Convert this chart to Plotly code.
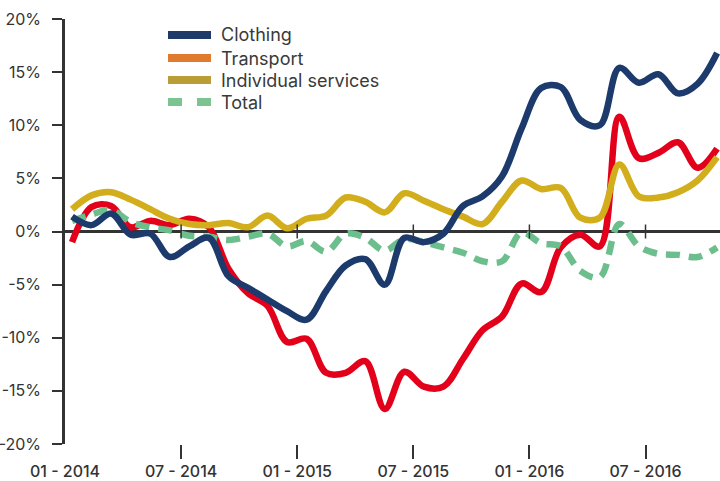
import plotly.graph_objects as go

# month index 0 = Jan 2014 ... 33 = Oct 2016
months = list(range(34))

clothing = [1.4, 0.6, 1.7, -0.3, -0.2, -2.4, -1.4, -0.6, -4.2, -5.3,
            -6.4, -7.5, -8.3, -5.6, -3.2, -2.6, -5.0, -0.6, -1.0, -0.2,
            2.4, 3.3, 5.2, 9.7, 13.5, 13.6, 10.5, 10.0, 15.4, 14.0,
            14.8, 13.0, 13.9, 16.8]

transport = [-1.0, 2.3, 2.4, 0.4, 1.0, 0.6, 1.2, 0.4, -3.5, -5.8,
             -7.0, -10.4, -10.1, -13.3, -13.3, -12.2, -16.7, -13.2, -14.6, -14.6,
             -12.0, -9.3, -8.0, -4.9, -5.7, -1.5, -0.3, -1.4, 10.8, 6.9,
             7.4, 8.4, 6.0, 7.8]

services = [2.1, 3.4, 3.7, 3.0, 2.1, 1.2, 0.7, 0.6, 0.8, 0.4,
            1.5, 0.3, 1.2, 1.5, 3.2, 2.8, 1.8, 3.6, 2.9, 2.1,
            1.4, 0.7, 2.8, 4.8, 4.0, 4.1, 1.3, 1.3, 6.3, 3.3,
            3.2, 3.7, 4.8, 7.0]

total = [1.0, 1.6, 2.0, 0.9, 0.4, 0.1, -0.4, -0.5, -0.8, -0.5,
         -0.2, -1.4, -0.9, -1.9, -0.2, -0.6, -1.8, -0.7, -1.0, -1.5,
         -2.0, -2.8, -2.8, -0.1, -1.1, -1.4, -3.7, -4.3, 0.7, -1.4,
         -2.1, -2.2, -2.4, -1.5]

tick_labels = ["01 - 2014", "07 - 2014", "01 - 2015", "07 - 2015", "01 - 2016", "07 - 2016"]
y_ticks = [-20, -15, -10, -5, 0, 5, 10, 15, 20]
y_tick_labels = [f"{v}%" for v in y_ticks]

series_names = ["Clothing", "Transport", "Individual services", "Total"]
line_colors = ["#1c3a6b", "#e3001b", "#d2ad1c", "#6cbf8c"]
legend_colors = ["#1f3a68", "#e07a2f", "#bb9d38", "#7cc392"]

# figure geometry
W, H = 720, 481
ML, MR, MT, MB = 65, 0, 19, 37
PW, PH = W - ML - MR, H - MT - MB

def px_x(p):
    return (p - ML) / PW

def px_y(p):
    return (H - MB - p) / PH

# axis geometry (month-index units)
x_start = -0.36
x_end = 33.15
tick_step = 5.94
tick_pos = [x_start + tick_step * k for k in range(len(tick_labels))]

DARK = "#333333"
FONT = "Inter"

fig = go.Figure()

data = [clothing, transport, services, total]
draw_order = [1, 3, 2, 0]
for i in draw_order:
    fig.add_trace(go.Scatter(
        x=months, y=data[i], mode="lines", name=series_names[i],
        line=dict(color=line_colors[i], width=6.5, shape="spline", smoothing=1.0,
                  dash="14px,9px" if i == 3 else "solid"),
        showlegend=False, hoverinfo="skip"))

# manual legend (swatches + labels)
leg_rows = [35, 58, 80, 102]
for i, name in enumerate(series_names):
    fig.add_shape(type="line", xref="paper", yref="paper",
                  x0=px_x(168), x1=px_x(211), y0=px_y(leg_rows[i]), y1=px_y(leg_rows[i]),
                  line=dict(color=legend_colors[i], width=8,
                            dash="14px,15px" if i == 3 else "solid"))
    fig.add_annotation(xref="paper", yref="paper", x=px_x(219), y=px_y(leg_rows[i]),
                       xanchor="left", yanchor="middle", showarrow=False, text=name,
                       font=dict(size=18, color="#3a3a3a", family=FONT))

# small ticks crossing the zero line
for p in tick_pos[1:]:
    fig.add_shape(type="line", xref="x", yref="y", x0=p, x1=p,
                  ysizemode="pixel", yanchor=0, y0=-7, y1=7,
                  line=dict(color=DARK, width=1.5), layer="above")

fig.update_layout(
    width=W, height=H,
    margin=dict(l=ML, r=MR, t=MT, b=MB, autoexpand=False),
    paper_bgcolor="white", plot_bgcolor="white",
    font=dict(family=FONT, color=DARK),
    showlegend=False,
)

fig.update_xaxes(
    range=[x_start, x_end], showgrid=False, zeroline=False, showline=False,
    tickmode="array", tickvals=tick_pos, ticktext=tick_labels, ticks="",
    ticklabelstandoff=16, automargin=False,
    tickfont=dict(size=16, color=DARK, family=FONT, weight=500),
    minor=dict(tickmode="array", tickvals=tick_pos[1:], ticks="outside",
               ticklen=14, tickwidth=1.5, tickcolor=DARK, showgrid=False),
)

fig.update_yaxes(
    range=[-20, 20], showgrid=False, tickmode="array", tickvals=y_ticks,
    ticktext=y_tick_labels, ticks="outside", ticklen=10, tickwidth=2, tickcolor=DARK,
    ticklabelstandoff=8, automargin=False,
    showline=True, linecolor=DARK, linewidth=2.5,
    zeroline=True, zerolinecolor=DARK, zerolinewidth=2.5,
    tickfont=dict(size=16, color=DARK, family=FONT),
)

fig.write_html("out.html", config={"displayModeBar": False},
               post_script="document.body.style.margin='0';")
